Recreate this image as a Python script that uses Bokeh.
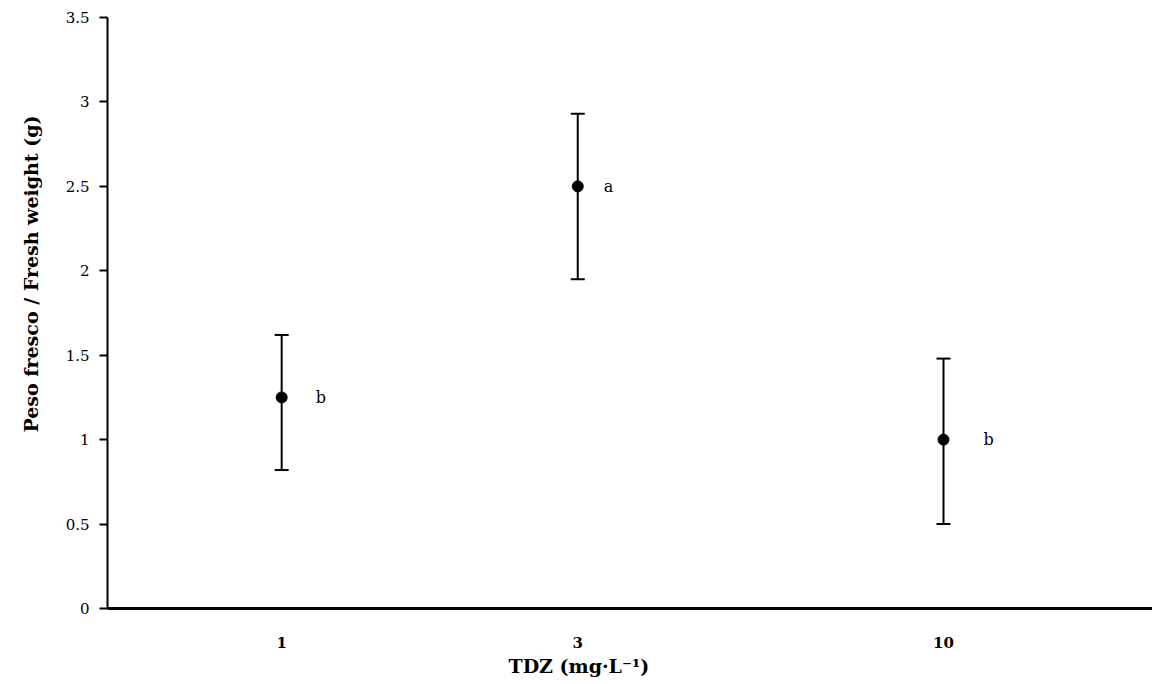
from bokeh.plotting import figure
from bokeh.models import ColumnDataSource, Whisker, TeeHead, FixedTicker, Title, Range1d
from bokeh.core.properties import value
from bokeh.embed import file_html
from bokeh.resources import INLINE

# ---- data ----
doses = ["1", "3", "10"]
mean_weight = [1.25, 2.50, 1.00]
upper_bound = [1.62, 2.93, 1.48]
lower_bound = [0.82, 1.95, 0.50]
letters = ["b", "a", "b"]
dose_axis_pos = [1.0, 2.7, 4.8]
y_ticks = [0, 0.5, 1, 1.5, 2, 2.5, 3, 3.5]

FONT = "DejaVu Serif"

src = ColumnDataSource(dict(
    x=dose_axis_pos, y=mean_weight, upper=upper_bound, lower=lower_bound,
    letter=letters, dx=[34, 26, 40],
))

p = figure(width=1152, height=684, output_backend="svg", toolbar_location=None,
           x_range=Range1d(0, 6), y_range=Range1d(0, 3.5),
           min_border_left=106, min_border_top=17, min_border_right=0, min_border_bottom=76)
p.outline_line_color = None
p.xgrid.visible = False
p.ygrid.visible = False
p.background_fill_color = "white"
p.border_fill_color = "white"

# error bars
wh = Whisker(source=src, base="x", upper="upper", lower="lower", dimension="height",
             line_color="black", line_width=2,
             upper_head=TeeHead(size=14, line_width=2, line_color="black"),
             lower_head=TeeHead(size=14, line_width=2, line_color="black"))
p.add_layout(wh)

p.scatter("x", "y", source=src, size=11, color="black")

p.text("x", "y", text="letter", source=src, x_offset="dx",
       text_font=value(FONT), text_font_size="16px", text_color="black",
       text_align="left", text_baseline="middle")

# y axis
ya = p.yaxis[0]
ya.ticker = FixedTicker(ticks=y_ticks)
ya.major_label_overrides = {0: "0", 0.5: "0.5", 1: "1", 1.5: "1.5", 2: "2", 2.5: "2.5", 3: "3", 3.5: "3.5"}
ya.axis_line_width = 2
ya.axis_line_color = "black"
ya.major_tick_line_width = 2
ya.major_tick_line_color = "black"
ya.major_tick_out = 8
ya.major_tick_in = 0
ya.minor_tick_line_color = None
ya.major_label_text_font = FONT
ya.major_label_text_font_size = "15px"
ya.major_label_text_color = "black"
ya.major_label_standoff = 10

# x axis
xa = p.xaxis[0]
xa.ticker = FixedTicker(ticks=dose_axis_pos)
xa.major_label_overrides = {pos: d for pos, d in zip(dose_axis_pos, doses)}
xa.axis_line_width = 3
xa.axis_line_color = "black"
xa.major_tick_line_color = None
xa.major_tick_out = 0
xa.major_tick_in = 0
xa.minor_tick_line_color = None
xa.major_label_text_font = FONT
xa.major_label_text_font_size = "15px"
xa.major_label_text_font_style = "bold"
xa.major_label_text_color = "black"
xa.major_label_standoff = 28

p.add_layout(Title(text="Peso fresco / Fresh weight (g)", align="left", offset=176,
                   vertical_align="top",
                   text_font=FONT, text_font_size="19px", text_font_style="bold",
                   text_color="black", standoff=38), "left")
p.add_layout(Title(text="TDZ (mg·L⁻¹)", align="left", offset=401,
                   text_font=FONT, text_font_size="19px", text_font_style="bold",
                   text_color="black", standoff=4), "below")

open("out.html", "w").write(file_html(p, INLINE))
